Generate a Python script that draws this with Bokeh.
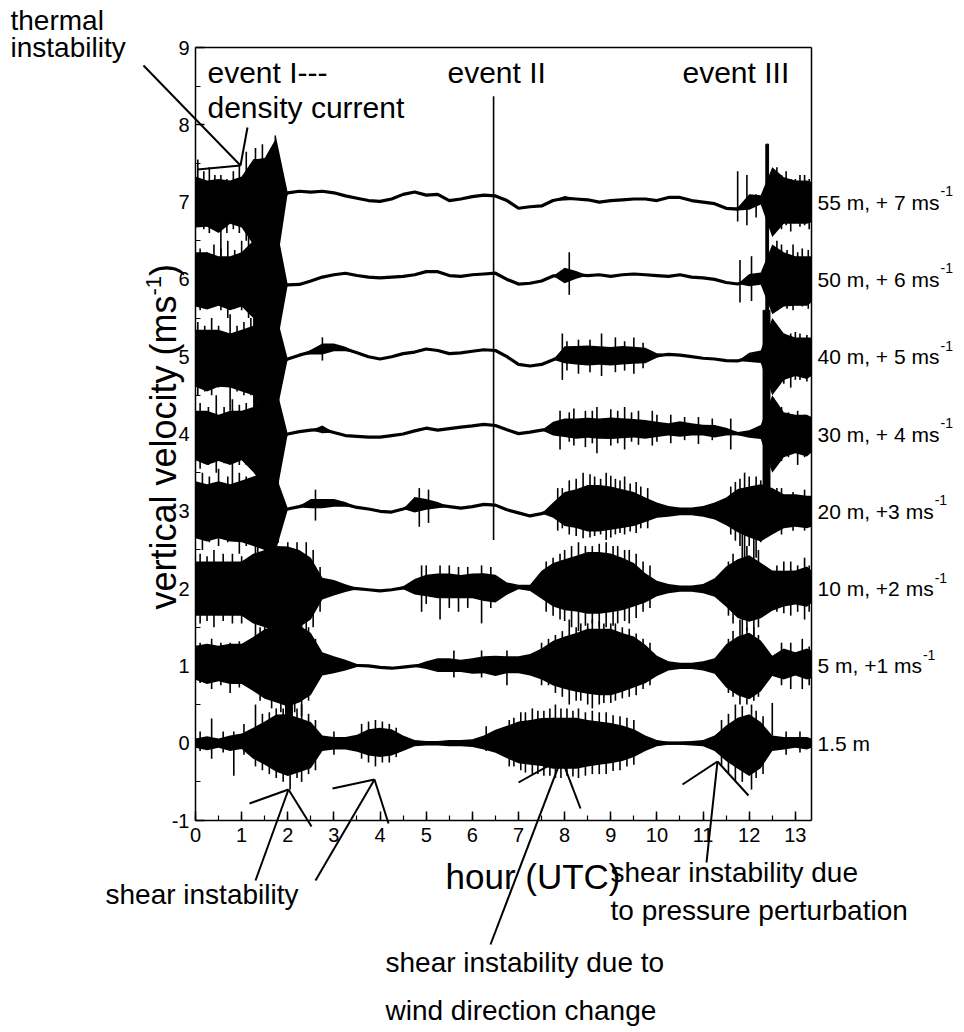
import math
from bokeh.plotting import figure
from bokeh.models import Range1d, Label, Arrow, SingleIntervalTicker, FixedTicker, LinearAxis
from bokeh.embed import file_html
from bokeh.resources import INLINE

FONT = "Liberation Sans"

# sample hours (UTC) at which the traces were read
HOURS = [0, 0.25, 0.5, 0.75, 1, 1.25, 1.5, 1.75, 2, 2.25, 2.5, 2.75, 3, 3.25,
         3.5, 3.75, 4, 4.25, 4.5, 4.75, 5, 5.25, 5.5, 5.75, 6, 6.25, 6.5, 6.75,
         7, 7.25, 7.5, 7.75, 8, 8.25, 8.5, 8.75, 9, 9.25, 9.5, 9.75, 10, 10.25,
         10.5, 10.75, 11, 11.25, 11.5, 11.75, 12, 12.25, 12.5, 12.75, 13, 13.25, 13.35]

# C_*: running mean of each trace (ms-1, relative to its offset); A_*: half-amplitude of its noise
C_55 = [0.0,-0.02,-0.05,0.0,0.0,0.0,-0.05,-0.02,0.12,0.14,0.13,0.14,0.12,0.08,0.05,0.02,0.01,0.04,0.10,0.13,0.09,0.10,0.02,0.04,0.07,0.09,0.08,0.02,-0.08,-0.06,-0.05,0.02,0.05,0.04,0.03,0.0,0.02,0.03,0.04,0.04,0.02,0.06,0.06,0.02,0.0,-0.02,-0.08,-0.09,0.0,0.03,0.0,0.02,0.0,0.0,0.0]
A_55 = [0.33,0.3,0.35,0.28,0.33,0.55,0.62,0.85,0,0,0,0,0,0,0,0,0,0,0,0,0,0,0,0,0,0,0,0,0,0,0,0,0.03,0.01,0,0,0,0,0,0,0,0,0,0,0,0,0,0.02,0.1,0.06,0.45,0.3,0.28,0.28,0.26]
C_50 = [0.0,-0.02,-0.02,-0.05,0.0,0.0,-0.07,-0.1,-0.07,-0.065,-0.02,0.03,0.06,0.08,0.05,0.03,0.02,0.03,0.04,0.06,0.10,0.10,0.05,0.04,0.06,0.07,0.08,0.0,-0.06,-0.05,-0.02,0.045,0.05,0.06,0.05,0.06,0.04,0.06,0.07,0.06,0.05,0.04,0.06,0.03,0.02,0.0,-0.04,-0.06,-0.01,0.01,0.0,0.0,-0.02,-0.02,0.0]
A_50 = [0.35,0.37,0.32,0.35,0.35,0.5,0.62,0.8,0,0,0,0,0,0,0,0,0,0,0,0,0,0,0,0,0,0,0,0,0,0,0,0,0.1,0.05,0,0,0,0,0,0,0,0,0,0,0,0,0,0,0.08,0.08,0.45,0.35,0.32,0.32,0.3]
C_40 = [-0.02,-0.05,-0.02,-0.05,-0.05,-0.05,-0.1,-0.1,-0.03,0.02,0.06,0.1,0.12,0.1,0.05,0.0,-0.03,0.0,0.04,0.06,0.1,0.08,0.04,0.05,0.07,0.09,0.08,0.0,-0.1,-0.12,-0.1,-0.04,0.025,0.02,0.015,0.015,0.005,0.02,0.02,0.015,0.015,0.03,0.02,0.0,-0.02,-0.03,-0.05,-0.055,-0.01,0.0,0.0,0.0,0.0,-0.02,0.0]
A_40 = [0.37,0.4,0.37,0.35,0.4,0.45,0.6,0.65,0,0,0.03,0.07,0.05,0.03,0,0,0,0,0,0,0,0,0,0,0,0,0,0,0,0,0,0,0.11,0.12,0.13,0.12,0.12,0.12,0.11,0.1,0.03,0,0,0,0,0,0,0,0.06,0.08,0.5,0.3,0.25,0.27,0.25]
C_30 = [-0.02,-0.05,-0.05,-0.05,-0.02,-0.07,-0.1,-0.1,0.0,0.03,0.05,0.06,0.02,-0.02,-0.03,-0.04,-0.04,-0.02,0.0,0.04,0.075,0.05,0.07,0.09,0.105,0.125,0.11,0.055,0.005,0.025,0.05,0.07,0.08,0.07,0.08,0.07,0.075,0.075,0.075,0.06,0.06,0.06,0.065,0.06,0.05,0.035,0.03,0.005,0.0,0.025,0.0,-0.01,0.0,-0.02,-0.01]
A_30 = [0.32,0.35,0.3,0.35,0.32,0.42,0.6,0.7,0,0,0,0.05,0,0,0,0,0,0,0,0,0,0,0,0,0,0,0,0,0,0,0,0.09,0.12,0.13,0.13,0.13,0.14,0.13,0.12,0.12,0.1,0.08,0.1,0.08,0.07,0.08,0.05,0.02,0.05,0.09,0.5,0.29,0.25,0.27,0.23]
C_20 = [0.02,-0.02,0.02,-0.02,0.0,0.0,0.0,-0.02,0.03,0.06,0.1,0.1,0.11,0.09,0.05,0.03,0.0,-0.01,0.03,0.085,0.09,0.08,0.06,0.04,0.06,0.09,0.08,0.02,-0.02,-0.06,-0.03,0.015,0.03,0.035,0.04,0.04,0.04,0.035,0.03,0.02,0.015,0.0,0.0,0.0,0.0,0.005,0.0,0.01,-0.01,-0.02,0.0,0.0,0.01,-0.01,0.0]
A_20 = [0.37,0.37,0.37,0.37,0.4,0.45,0.5,0.47,0.01,0.01,0.06,0.06,0.05,0.03,0,0,0,0,0,0.1,0.07,0.04,0,0,0,0,0,0,0,0,0,0.1,0.22,0.25,0.3,0.3,0.28,0.25,0.22,0.16,0.1,0.07,0.05,0.05,0.07,0.11,0.18,0.28,0.33,0.37,0.3,0.22,0.21,0.21,0.2]
C_10 = [0,0,0,0,0,0,0,0,0.025,0,0,0,0.01,0.005,0.0,-0.015,-0.03,-0.015,0.01,0.025,0.04,0.035,0.035,0.025,0.035,0.02,0,0,0.02,0.01,0.05,0.05,0.05,0.065,0.075,0.075,0.075,0.06,0.05,0.01,0,0,0,0,0,0.015,0.025,0,0,-0.025,-0.025,0,0.015,0.025,0.025]
A_10 = [0.35,0.35,0.35,0.35,0.35,0.45,0.5,0.55,0.52,0.5,0.4,0.14,0.1,0.05,0.01,0,0,0,0.02,0.1,0.14,0.16,0.16,0.15,0.16,0.18,0.18,0.08,0.03,0.04,0.18,0.28,0.33,0.36,0.4,0.4,0.38,0.34,0.28,0.19,0.1,0.06,0.04,0.04,0.06,0.12,0.26,0.38,0.43,0.36,0.26,0.23,0.22,0.26,0.21]
C_5 = [0.04,0.025,0.03,0.025,0.025,0.025,0.025,0.025,0.025,0.025,0.025,0.025,0.015,0.01,0.005,0,-0.02,-0.03,-0.015,0,0.01,0.01,0.01,0,0,0.015,0,0.015,0.015,0.015,0.025,0.035,0.04,0.045,0.06,0.05,0.05,0.045,0.05,0.025,0,0,0,0,0,0,0,0,0,0,0,0.025,0.025,0.025,0.02]
A_5 = [0.22,0.26,0.23,0.26,0.26,0.35,0.45,0.5,0.55,0.5,0.4,0.15,0.11,0.07,0.02,0.01,0,0,0,0.01,0.05,0.09,0.09,0.08,0.1,0.11,0.13,0.11,0.11,0.14,0.2,0.29,0.34,0.38,0.42,0.43,0.43,0.38,0.33,0.25,0.13,0.06,0.04,0.04,0.06,0.1,0.28,0.38,0.43,0.33,0.13,0.2,0.15,0.2,0.18]
C_1 = [0,0,0,0,0.025,0,0,0,-0.025,-0.025,-0.025,0,0,0,0,0.01,0.01,0.01,0,0,0,0,0,0,0,0.01,0.025,0.015,0.01,0.01,0.015,0,0,0,0,0,0,0,0,0,0,0,0,0,0,0,0,0,-0.025,-0.025,0,0,0.01,0,0]
A_1 = [0.06,0.09,0.06,0.1,0.1,0.2,0.28,0.37,0.4,0.35,0.3,0.1,0.08,0.08,0.11,0.17,0.19,0.17,0.1,0.04,0.03,0.03,0.04,0.04,0.05,0.09,0.15,0.21,0.27,0.29,0.31,0.33,0.33,0.33,0.3,0.28,0.26,0.23,0.18,0.1,0.04,0.02,0.02,0.03,0.04,0.1,0.23,0.33,0.4,0.3,0.1,0.08,0.07,0.08,0.06]

TRACE_NAMES = ["55 m, + 7 ms", "50 m, + 6 ms", "40 m, + 5 ms", "30 m, + 4 ms",
               "20 m, +3 ms", "10 m, +2 ms", "5 m, +1 ms", "1.5 m"]
TRACE_UNIT_EXP = ["-1", "-1", "-1", "-1", "-1", "-1", "-1", ""]
TRACE_OFFSETS = [7, 6, 5, 4, 3, 2, 1, 0]
TRACE_MEAN = [C_55, C_50, C_40, C_30, C_20, C_10, C_5, C_1]
TRACE_AMP = [A_55, A_50, A_40, A_30, A_20, A_10, A_5, A_1]

# single spikes: hour, lowest and highest value (offsets included)
SPIKES = [
    (6.46, 2.63, 8.37),
    # 55 m
    (0.05,6.9,7.55),(0.18,6.65,7.4),(0.3,6.6,7.45),(0.42,6.7,7.35),(0.55,6.3,7.35),(0.68,6.6,7.3),
    (0.82,6.65,7.4),(0.95,6.6,7.5),(1.1,6.5,7.65),(1.3,6.2,7.7),(1.45,6.4,7.75),(1.65,6.9,7.7),
    (1.73,6.9,7.86),(11.75,6.75,7.4),
    (11.95,6.7,7.35),(12.15,6.8,7.1),(12.6,6.7,7.45),(12.7,6.65,7.35),(12.8,6.7,7.4),(12.9,6.62,7.3),
    (13.0,6.75,7.3),(13.1,6.68,7.35),(13.2,6.7,7.35),(13.3,6.65,7.3),
    # 50 m
    (0.1,5.6,6.4),(0.25,5.65,6.35),(0.4,5.7,6.45),(0.55,5.6,6.4),(0.7,5.5,6.5),(0.85,5.62,6.38),
    (1.0,5.6,6.5),(1.15,5.5,6.55),(8.1,5.8,6.35),(11.8,5.7,6.25),(12.05,5.72,6.3),(12.6,5.6,6.5),
    (12.7,5.65,6.45),(12.82,5.62,6.38),(12.95,5.6,6.45),(13.05,5.66,6.35),(13.15,5.65,6.4),(13.28,5.62,6.38),
    # 40 m
    (0.05,4.5,5.45),(0.2,4.55,5.4),(0.35,4.5,5.5),(0.5,4.6,5.4),(0.75,4.3,5.55),(0.9,4.55,5.4),
    (1.05,4.5,5.45),(1.2,4.5,5.5),(2.75,4.95,5.25),(7.95,4.7,5.3),(8.05,4.82,5.2),(8.3,4.78,5.22),
    (8.55,4.8,5.22),(8.8,4.75,5.3),(9.1,4.8,5.25),(9.3,4.82,5.2),(9.5,4.78,5.25),(9.7,4.85,5.18),
    (12.6,4.7,5.4),(12.75,4.65,5.3),(12.9,4.6,5.3),(13.0,4.7,5.32),(13.1,4.7,5.3),(13.25,4.68,5.28),
    # 30 m
    (0.1,3.55,4.4),(0.28,3.6,4.35),(0.45,3.5,4.5),(0.62,3.62,4.35),(0.8,3.2,4.45),(0.95,3.6,4.38),
    (1.1,3.6,4.4),(7.9,3.8,4.3),(8.1,3.9,4.28),(8.2,3.85,4.33),(8.45,3.83,4.3),(8.6,3.88,4.3),
    (8.7,3.75,4.35),(9.0,3.85,4.32),(9.15,3.88,4.3),(9.3,3.8,4.35),(9.45,3.9,4.28),(9.6,3.86,4.3),
    (9.9,3.85,4.3),(10.0,3.9,4.25),(10.3,3.88,4.25),(10.6,3.92,4.22),(10.9,3.87,4.22),(11.2,3.92,4.2),
    (11.6,3.8,4.2),(12.6,3.7,4.35),(12.7,3.65,4.35),(12.85,3.7,4.28),(13.05,3.6,4.3),(13.2,3.7,4.25),
    # 20 m
    (0.15,2.5,3.5),(0.3,2.6,3.45),(0.5,2.55,3.55),(0.7,2.6,3.45),(0.95,2.45,3.5),(1.1,2.55,3.45),
    (1.35,2.3,3.6),(2.6,2.88,3.28),(4.85,2.8,3.3),(5.05,2.85,3.28),(7.85,2.75,3.3),(7.95,2.78,3.3),
    (8.1,2.7,3.4),(8.25,2.68,3.42),(8.4,2.65,3.5),(8.55,2.66,3.48),(8.65,2.68,3.45),(8.78,2.7,3.42),
    (8.9,2.63,3.5),(9.0,2.66,3.46),(9.1,2.7,3.42),(9.2,2.72,3.4),(9.3,2.7,3.45),(9.42,2.74,3.36),
    (9.55,2.72,3.38),(9.65,2.78,3.32),(9.8,2.78,3.3),(11.6,2.7,3.32),(11.7,2.62,3.38),(11.8,2.55,3.42),
    (11.9,2.4,3.5),(12.0,2.55,3.45),(12.15,2.4,3.45),(12.25,2.6,3.4),(12.6,2.75,3.3),(12.7,2.7,3.3),
    (12.95,2.75,3.25),(13.2,2.75,3.28),
    # 10 m
    (0.1,1.55,2.45),(0.25,1.58,2.42),(0.4,1.5,2.5),(0.6,1.58,2.45),(0.8,1.55,2.45),(1.0,1.55,2.42),
    (1.3,1.35,2.7),(1.5,1.4,2.6),(1.7,1.3,2.65),(2.0,1.0,2.6),(2.2,1.35,2.6),(2.4,1.3,2.6),
    (2.55,1.5,2.5),(2.7,1.7,2.28),(4.9,1.7,2.3),(5.0,1.8,2.3),(5.3,1.6,2.3),(5.5,1.75,2.3),
    (5.7,1.7,2.28),(5.9,1.75,2.28),(6.2,1.55,2.3),(6.4,1.75,2.28),(7.6,1.7,2.35),(7.75,1.65,2.4),
    (7.9,1.6,2.45),(8.0,1.58,2.5),(8.15,1.5,2.55),(8.3,1.45,2.6),(8.45,1.52,2.55),(8.6,1.55,2.55),
    (8.75,1.5,2.58),(8.9,1.5,2.6),(9.05,1.52,2.55),(9.15,1.55,2.55),(9.3,1.58,2.5),(9.4,1.55,2.5),
    (9.55,1.62,2.45),(9.7,1.7,2.35),(9.85,1.75,2.3),(11.55,1.65,2.35),(11.65,1.55,2.45),(11.85,1.1,2.9),
    (11.95,1.45,2.55),(12.1,1.2,2.7),(12.2,1.5,2.5),(12.6,1.7,2.3),(12.75,1.68,2.35),(12.9,1.65,2.35),
    (13.05,1.7,2.3),(13.2,1.6,2.4),(13.3,1.7,2.3),
    # 5 m
    (0.1,0.78,1.3),(0.35,0.7,1.35),(0.55,0.75,1.3),(0.75,0.65,1.3),(0.95,0.72,1.32),(1.4,0.55,1.5),
    (1.65,0.45,1.55),(1.85,0.4,1.6),(2.15,0.4,1.65),(2.3,0.35,1.7),(2.45,0.55,1.5),(2.6,0.75,1.35),
    (5.6,0.85,1.2),(6.2,0.85,1.2),(6.75,0.75,1.2),(7.5,0.75,1.3),(7.65,0.75,1.35),(7.8,0.65,1.4),
    (7.95,0.6,1.45),(8.1,0.5,1.6),(8.25,0.55,1.5),(8.35,0.55,1.55),(8.5,0.5,1.55),(8.6,0.45,1.6),
    (8.75,0.5,1.58),(8.85,0.52,1.55),(9.0,0.52,1.55),(9.1,0.55,1.55),(9.25,0.58,1.5),(9.4,0.6,1.48),
    (9.55,0.62,1.42),(9.7,0.7,1.35),(9.85,0.75,1.3),(11.55,0.65,1.35),(11.65,0.6,1.45),(11.8,0.5,1.6),
    (11.95,0.5,1.5),(12.1,0.55,1.5),(12.2,0.6,1.4),(12.7,0.75,1.3),(12.9,0.7,1.3),(13.15,0.7,1.35),
    (13.3,0.75,1.25),
    # 1.5 m
    (0.1,-0.1,0.15),(0.35,-0.2,0.32),(0.6,-0.12,0.15),(0.83,-0.42,0.15),(1.05,-0.15,0.25),(1.3,-0.3,0.5),
    (1.45,-0.35,0.38),(1.6,-0.4,0.4),(1.75,-0.45,0.45),(1.9,-0.5,0.45),(2.05,-0.6,0.55),(2.2,-0.45,0.45),
    (2.3,-0.5,0.5),(2.45,-0.4,0.38),(2.6,-0.35,0.3),(3.0,-0.15,0.15),(3.6,-0.2,0.25),(3.75,-0.25,0.28),
    (3.9,-0.3,0.3),(4.05,-0.25,0.28),(4.2,-0.25,0.25),(4.35,-0.18,0.2),(6.3,-0.1,0.22),(6.8,-0.3,0.3),
    (6.9,-0.3,0.33),(7.05,-0.35,0.4),(7.15,-0.38,0.4),(7.3,-0.4,0.45),(7.42,-0.4,0.42),(7.55,-0.42,0.42),
    (7.68,-0.42,0.45),(7.8,-0.45,0.5),(7.92,-0.45,0.45),(8.05,-0.42,0.45),(8.18,-0.43,0.42),(8.3,-0.45,0.45),
    (8.45,-0.42,0.4),(8.6,-0.4,0.42),(8.75,-0.4,0.4),(8.9,-0.4,0.4),(9.05,-0.36,0.36),(9.2,-0.35,0.35),
    (9.35,-0.3,0.33),(9.5,-0.28,0.3),(11.4,-0.3,0.3),(11.55,-0.4,0.38),(11.7,-0.5,0.5),(11.85,-0.5,0.48),
    (12.05,-0.6,0.5),(12.15,-0.45,0.42),(12.3,-0.4,0.35),(12.5,0.1,0.52),(12.8,-0.15,0.15),(13.1,-0.12,0.15),
]
SPIKE_HOUR = [s[0] for s in SPIKES]
SPIKE_LOW = [s[1] for s in SPIKES]
SPIKE_HIGH = [s[2] for s in SPIKES]

# dense bursts of events I and III: hour from, hour to, lowest, highest value
BURST_LEFT = [1.26, 1.6, 1.95, 12.36, 12.3]
BURST_RIGHT = [1.34, 1.8, 2.1, 12.42, 12.45]
BURST_LOW = [3.6, 2.6, 0.15, 5.5, 2.86]
BURST_HIGH = [7.55, 7.55, 2.3, 7.75, 5.6]

# page geometry: plot box from x=195..811 px, y=47..820 px on a 964x1032 canvas
W, H = 964, 1032
BOX_L, BOX_R, BOX_T, BOX_B = 195, 811, 47, 820
X0, X1, Y0, Y1 = 0.0, 13.35, -1.0, 9.0
sx = (BOX_R - BOX_L) / (X1 - X0)
sy = (BOX_B - BOX_T) / (Y1 - Y0)

def hx(px):
    return X0 + (px - BOX_L) / sx

def vy(py):
    return Y1 - (py - BOX_T) / sy

p = figure(width=W, height=H, output_backend="svg", toolbar_location=None,
           x_range=Range1d(hx(0), hx(W)), y_range=Range1d(vy(H), vy(0)),
           min_border=0, min_border_left=0, min_border_right=0, min_border_top=0, min_border_bottom=0,
           x_axis_location=None, y_axis_location=None)
p.background_fill_color = "white"
p.border_fill_color = "white"
p.outline_line_color = None
p.xgrid.visible = False
p.ygrid.visible = False

for off, mean, amp in zip(TRACE_OFFSETS, TRACE_MEAN, TRACE_AMP):
    p.varea(x=HOURS, y1=[off + m - a for m, a in zip(mean, amp)],
            y2=[off + m + a for m, a in zip(mean, amp)], fill_color="black")
    p.line(x=HOURS, y=[off + m for m in mean], line_color="black", line_width=3.2)

p.segment(x0=SPIKE_HOUR, y0=SPIKE_LOW, x1=SPIKE_HOUR, y1=SPIKE_HIGH, line_color="black", line_width=1.6)
p.quad(left=BURST_LEFT, right=BURST_RIGHT, bottom=BURST_LOW, top=BURST_HIGH,
       fill_color="black", line_color="black")

def style_axis(ax):
    ax.axis_line_width = 1.5
    ax.axis_line_color = "black"
    ax.major_tick_in = 9
    ax.major_tick_out = 0
    ax.minor_tick_in = 5
    ax.minor_tick_out = 0
    ax.major_tick_line_width = 1.5
    ax.minor_tick_line_width = 1.2
    ax.major_label_text_font = FONT
    ax.major_label_text_font_size = "20px"
    ax.major_label_text_color = "black"

xaxis = LinearAxis(fixed_location=Y0, bounds=(X0, X1),
                   ticker=SingleIntervalTicker(interval=1, num_minor_ticks=2))
style_axis(xaxis)
xaxis.major_label_standoff = 7
p.add_layout(xaxis, "below")

yaxis = LinearAxis(fixed_location=X0, bounds=(Y0, Y1),
                   ticker=SingleIntervalTicker(interval=1, num_minor_ticks=2))
style_axis(yaxis)
yaxis.major_label_standoff = 6
yaxis.major_label_overrides = {-1: "-1"}
p.add_layout(yaxis, "left")

topaxis = LinearAxis(fixed_location=Y1, bounds=(X0, X1), ticker=FixedTicker(ticks=[]),
                     axis_line_width=1.5, major_label_text_font_size="0px")
p.add_layout(topaxis, "above")
rightaxis = LinearAxis(fixed_location=X1, bounds=(Y0, Y1), ticker=FixedTicker(ticks=[]),
                       axis_line_width=1.5, major_label_text_font_size="0px")
p.add_layout(rightaxis, "right")

# advance widths of Liberation Sans (Arial metrics), per 1000 em
ADV = {" ": 278, ",": 278, ".": 278, "+": 584, "-": 333, "(": 333, ")": 333, "m": 833, "s": 500,
       "v": 500, "e": 556, "r": 333, "t": 278, "i": 222, "c": 500, "a": 556, "l": 222, "o": 556, "y": 500}

def text_width(txt, size):
    return sum(ADV.get(ch, 556) for ch in txt) * size / 1000.0

def label(txt, px, py, size, angle=0.0, align="left"):
    p.add_layout(Label(x=hx(px), y=vy(py), text=txt, text_font=FONT, text_font_size="%dpx" % size,
                       text_baseline="middle", text_align=align, text_color="black", angle=angle))

# axis titles
label("hour (UTC)", 445, 876, 35)
ymain = "vertical velocity (ms"
y_bottom = 609
label(ymain, 163, y_bottom, 36, angle=math.pi / 2)
y_sup = y_bottom - text_width(ymain, 36)
label("-1", 153, y_sup, 22, angle=math.pi / 2)
label(")", 163, y_sup - text_width("-1", 22), 36, angle=math.pi / 2)

# trace labels at right
for off, name, sup in zip(TRACE_OFFSETS, TRACE_NAMES, TRACE_UNIT_EXP):
    py = BOX_T + (Y1 - off) * sy
    label(name, 817, py, 21)
    if sup:
        label(sup, 817 + text_width(name, 21) + 1, py - 11, 14)

# event titles and annotations
label("thermal", 10, 20, 28)
label("instability", 10, 47, 28)
label("event I---", 207, 72, 30)
label("density current", 207, 107, 30)
label("event II", 447, 72, 30)
label("event III", 682, 72, 30)
label("shear instability", 105, 894, 28)
label("shear instability due to", 385, 962, 28)
label("wind direction change", 385, 1010, 28)
label("shear instability due", 610, 872, 28)
label("to pressure perturbation", 610, 910, 28)

pointer_lines = [
    (143, 65, 240, 165), (240, 165, 197, 169), (240, 165, 247, 127),
    (288, 789, 249, 803), (288, 789, 311, 826), (288, 789, 255, 880),
    (374, 779, 332, 788), (374, 779, 388, 823), (374, 779, 315, 880),
    (561, 758, 518, 782), (561, 758, 580, 808), (561, 758, 490, 944),
    (717, 761, 682, 784), (717, 761, 748, 795), (717, 761, 706, 862),
]
for a, b, c, d in pointer_lines:
    p.add_layout(Arrow(end=None, x_start=hx(a), y_start=vy(b), x_end=hx(c), y_end=vy(d),
                       line_color="black", line_width=2))

open("out.html", "w").write(file_html(p, INLINE))
